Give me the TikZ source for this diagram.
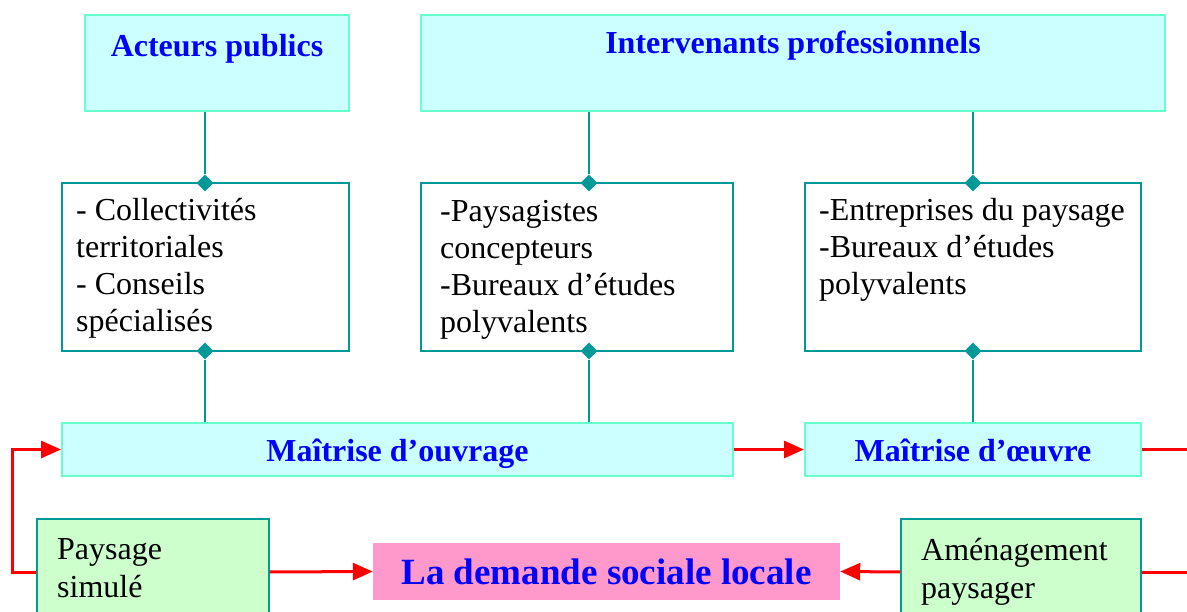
\documentclass[tikz,border=0pt]{standalone}
\usepackage{fontspec}
\setmainfont{Liberation Serif}
\usepackage{xcolor}
\usetikzlibrary{arrows.meta, positioning, shapes.geometric}

\definecolor{paleCyan}{HTML}{CCFFFF}
\definecolor{aquaLine}{HTML}{66FFCC}
\definecolor{tealLine}{HTML}{009999}
\definecolor{paleGreen}{HTML}{CCFFCC}
\definecolor{pinkBox}{HTML}{FF99CC}

\begin{document}
\begin{tikzpicture}[x=1pt, y=-1pt,
    headbox/.style={draw=aquaLine, fill=paleCyan, line width=2pt, inner sep=0pt,
                    text=blue, font=\fontsize{32}{37}\selectfont\bfseries},
    listbox/.style={draw=tealLine, fill=white, line width=2pt, inner sep=0pt},
    simbox/.style={draw=tealLine, fill=paleGreen, line width=2pt, inner sep=0pt},
    listtext/.style={anchor=north west, inner sep=0pt, align=left,
                     font=\fontsize{32}{37}\selectfont},
    joint/.style={diamond, fill=tealLine, inner sep=0pt, minimum size=17pt},
    link/.style={tealLine, line width=2pt},
    flow/.style={red, line width=3pt, -{Triangle[length=20pt, width=17pt]}}
  ]

  % Frame of the picture
  \useasboundingbox (0,0) rectangle (1187,612);
  \clip (0,0) rectangle (1187,612);

  % Top row: actors
  \node[headbox, minimum width=264pt, text height=42pt, text depth=54pt] (pub) at (217,63) {Acteurs publics};
  \node[headbox, minimum width=744pt, text height=39pt, text depth=57pt] (pro) at (793,63) {Intervenants professionnels};

  % Middle row: lists
  \node[listbox, minimum width=287pt, minimum height=168pt] (col) at (205.5,267) {};
  \node[listbox, minimum width=312pt, minimum height=168pt] (con) at (577,267) {};
  \node[listbox, minimum width=336pt, minimum height=168pt] (ent) at (973,267) {};

  \node[listtext] (col-txt) at ([shift={(15,16)}]col.north west)
    {- Collectivités\\territoriales\\- Conseils\\spécialisés};
  \node[listtext] (con-txt) at ([shift={(20,18)}]con.north west)
    {-Paysagistes\\concepteurs\\-Bureaux d’études\\polyvalents};
  \node[listtext] (ent-txt) at ([shift={(15,16)}]ent.north west)
    {-Entreprises du paysage\\-Bureaux d’études\\polyvalents};

  % Maitrise row
  \node[headbox, minimum width=671pt, text height=38pt, text depth=15pt] (ouv) at (397.5,449.5) {Maîtrise d’ouvrage};
  \node[headbox, minimum width=336pt, text height=38pt, text depth=15pt] (oeu) at (973,449.5) {Maîtrise d’œuvre};

  % Bottom row
  \node[simbox, minimum width=232pt, minimum height=106pt] (sim) at (153,572) {};
  \node[simbox, minimum width=240pt, minimum height=106pt] (amen) at (1021,572) {};
  \node[listtext, font=\fontsize{32}{38}\selectfont] (sim-txt) at ([shift={(21,20)}]sim.north west) {Paysage\\simulé};
  \node[listtext, font=\fontsize{32}{38}\selectfont] (amen-txt) at ([shift={(21,20)}]amen.north west) {Aménagement\\paysager};

  \node[fill=pinkBox, minimum width=467pt, minimum height=57pt, inner sep=0pt,
        text=blue, font=\fontsize{37}{40}\selectfont\bfseries] (dem) at (606.5,571.5) {La demande sociale locale};

  % Joints on the lists
  \node[joint] (j1) at (205,183) {};
  \node[joint] (j2) at (205,351) {};
  \node[joint] (j3) at (589,183) {};
  \node[joint] (j4) at (589,351) {};
  \node[joint] (j5) at (973,183) {};
  \node[joint] (j6) at (973,351) {};

  \draw[link] (j1) -- (j1 |- pub.south);
  \draw[link] (j3) -- (j3 |- pro.south);
  \draw[link] (j5) -- (j5 |- pro.south);
  \draw[link] (j2) -- (j2 |- ouv.north);
  \draw[link] (j4) -- (j4 |- ouv.north);
  \draw[link] (j6) -- (j6 |- oeu.north);

  % Red flows
  \draw[flow] (ouv.east) -- (oeu.west);
  \draw[flow] (sim.east) -- (dem.west);
  \draw[flow] (amen.west) -- (dem.east);
  \draw[flow] (sim.west) -- ++(-24,0) |- (ouv.west);
  \draw[red, line width=3pt] (oeu.east) -- ++(80,0) |- (amen.east);

\end{tikzpicture}
\end{document}
